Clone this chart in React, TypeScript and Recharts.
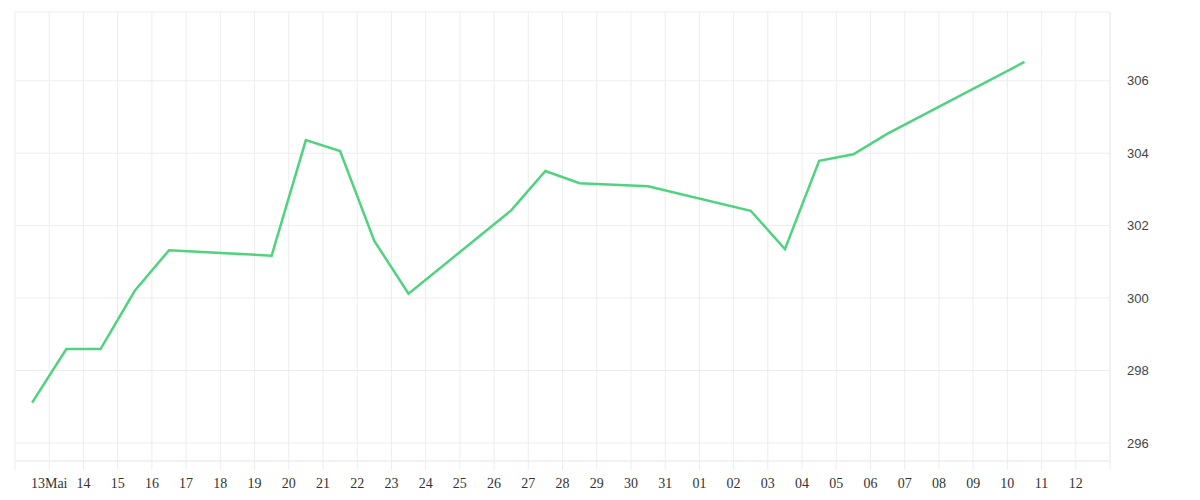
import React from "react";
import { CartesianGrid, Line, LineChart, XAxis, YAxis } from "recharts";

// day slot (0 = first day on the axis) and closing value
const slots = [0, 1, 2, 3, 4, 7, 8, 9, 10, 11, 14, 15, 16, 18, 21, 22, 23, 24, 25, 29];
const values = [
  297.11, 298.59, 298.59, 300.2, 301.32, 301.17, 304.36, 304.06, 301.58, 300.12,
  302.42, 303.51, 303.17, 303.09, 302.41, 301.35, 303.79, 303.97, 304.54, 306.52
];

// labels sit on the day boundaries 0..32
const tickLabels = [
  "", "13Mai", "14", "15", "16", "17", "18", "19", "20", "21", "22", "23", "24",
  "25", "26", "27", "28", "29", "30", "31", "01", "02", "03", "04", "05", "06",
  "07", "08", "09", "10", "11", "12", ""
];
const yTicks = [296, 298, 300, 302, 304, 306];

const data = slots.map((s, i) => ({ x: s + 0.5, value: values[i] }));
const xTicks = tickLabels.map((_, i) => i);

const gridColor = "#ededed";

export default function App() {
  return (
    <div style={{ position: "absolute", left: 0, top: 0, width: 1200, height: 500, background: "#fff" }}>
      <LineChart width={1200} height={500} data={data} margin={{ top: 12, right: 30, bottom: 9, left: 15 }}>
        <CartesianGrid stroke={gridColor} />
        <XAxis
          dataKey="x"
          type="number"
          domain={[0, 32]}
          ticks={xTicks}
          interval={0}
          height={30}
          tickFormatter={(v) => tickLabels[v] ?? ""}
          tickSize={9}
          tickMargin={8}
          axisLine={{ stroke: gridColor }}
          tickLine={{ stroke: gridColor }}
          tick={{ fill: "#333", fontSize: 14, fontFamily: "Liberation Serif" }}
        />
        <YAxis
          orientation="right"
          type="number"
          domain={[295.5, 307.9]}
          allowDataOverflow
          ticks={yTicks}
          width={60}
          axisLine={{ stroke: gridColor }}
          tickLine={false}
          tickSize={6}
          tickMargin={11}
          tick={{ fill: "#444", fontSize: 13, fontFamily: "Liberation Sans" }}
        />
        <Line
          type="linear"
          dataKey="value"
          stroke="#4fd37f"
          strokeWidth={2.5}
          dot={false}
          activeDot={false}
          isAnimationActive={false}
        />
      </LineChart>
    </div>
  );
}
